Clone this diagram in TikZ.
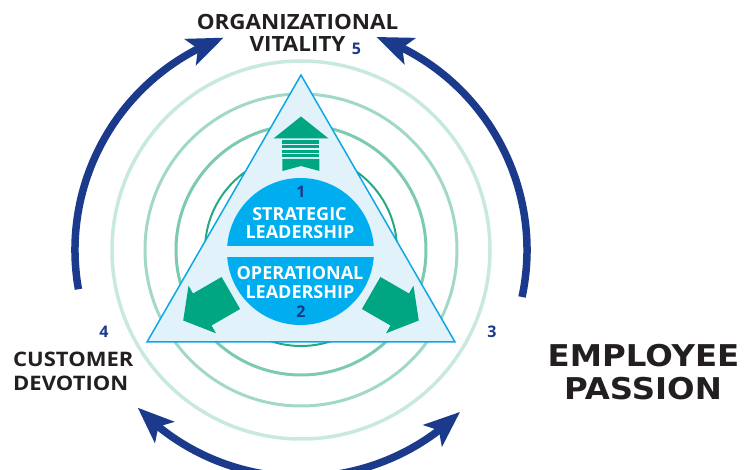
\documentclass[tikz,border=0pt]{standalone}
\usepackage{fontspec}
\setmainfont{Open Sans}
\newfontfamily\heavyfont{DejaVu Sans}
\usetikzlibrary{arrows.meta,bending}
\definecolor{navy}{RGB}{27,58,140}
\definecolor{diskblue}{RGB}{0,174,239}
\definecolor{trifill}{RGB}{225,242,251}
\definecolor{triline}{RGB}{15,166,228}
\definecolor{leafgreen}{RGB}{0,166,129}
\definecolor{ringA}{RGB}{200,233,223}
\definecolor{ringB}{RGB}{162,216,199}
\definecolor{ringC}{RGB}{124,202,177}
\definecolor{ringD}{RGB}{37,169,133}
\definecolor{ink}{RGB}{35,31,32}
\tikzset{bighead/.tip={Stealth[length=36pt,width=28pt,inset=8pt]}}
\begin{document}
\begin{tikzpicture}[x=1pt,y=1pt,
  flow/.style={draw=navy,line width=7.5pt},
  lbl/.style={text=ink,inner sep=0pt,xscale=1.1,font=\bfseries\fontsize{20}{24}\selectfont},
  big/.style={text=ink,inner sep=0pt,xscale=1.08,font=\heavyfont\bfseries\fontsize{30}{34}\selectfont},
  num/.style={text=navy,inner sep=0pt,font=\bfseries\fontsize{16}{18}\selectfont},
  intext/.style={text=white,inner sep=0pt,font=\bfseries\fontsize{18}{20}\selectfont}]
\useasboundingbox (-301,-219) rectangle (451,251);
\draw[ringA,line width=3.5pt] (0,1) circle[radius=189];
\draw[ringB,line width=3pt] (0,1) circle[radius=156];
\draw[ringC,line width=3pt] (0,1) circle[radius=125];
\draw[ringD,line width=2pt] (0,1) circle[radius=96];
\begin{scope}[shift={(0,1)}]
\draw[flow,-bighead] (190:226) arc[start angle=190,end angle=110,radius=226];
\draw[flow,-bighead] (-12:226) arc[start angle=-12,end angle=70.5,radius=226];
\draw[flow,bighead-bighead] (224:227) arc[start angle=224,end angle=314.5,radius=227];
\end{scope}
\filldraw[fill=trifill,draw=triline,line width=1.5pt] (0,176) -- (-154,-91) -- (154,-91) -- cycle;
\fill[diskblue] (-0.5,-0.5) circle[radius=73.5];
\fill[trifill] (-80,5) rectangle (80,-6);
\begin{scope}[leafgreen,shift={(0,-1.5)},rotate=90]
\fill (136,0) -- (114,27.5) -- (114,-27.5) -- cycle;
\fill (112,-18.5) rectangle (108.5,18.5);
\fill (107,-18.5) rectangle (104,18.5);
\fill (102.5,-18.5) rectangle (99.5,18.5);
\fill (98,-18.5) rectangle (95,18.5);
\fill (93.5,-18.5) -- (93.5,18.5) -- (81.5,18.5) -- (86.5,0) -- (81.5,-18.5) -- cycle;
\end{scope}
\foreach \a in {210,330}
  \fill[leafgreen,shift={(0,-1.5)},rotate=\a] (136,0) -- (114,27.5) -- (114,18.5) -- (81,18.5)
    -- (81,-18.5) -- (114,-18.5) -- (114,-27.5) -- cycle;
\node[num,anchor=base] (one) at (0,53) {1};
\node[intext,anchor=base] (strat) at (-1.5,30) {STRATEGIC};
\node[intext,anchor=base] (leadA) at (-1,12) {LEADERSHIP};
\node[intext,anchor=base] (oper) at (-1,-29) {OPERATIONAL};
\node[intext,anchor=base] (leadB) at (-1,-48) {LEADERSHIP};
\node[num,anchor=base] (two) at (0,-67) {2};
\node[lbl,anchor=base,xscale=0.97,font=\bfseries\fontsize{21}{24}\selectfont] (orgA) at (-3.5,221) {ORGANIZATIONAL};
\node[lbl,anchor=base,xscale=0.97,font=\bfseries\fontsize{21}{24}\selectfont] (orgB) at (-3.5,199) {VITALITY};
\node[num,anchor=base] (five) at (55.5,196) {5};
\node[num,anchor=base] (four) at (-197,-87) {4};
\node[lbl,anchor=base west] (custA) at (-288,-116) {CUSTOMER};
\node[lbl,anchor=base west] (custB) at (-288,-140) {DEVOTION};
\node[num,anchor=base] (three) at (191,-87) {3};
\node[big,anchor=base] (empA) at (342.5,-116) {EMPLOYEE};
\node[big,anchor=base] (empB) at (342,-149) {PASSION};
\end{tikzpicture}
\end{document}
